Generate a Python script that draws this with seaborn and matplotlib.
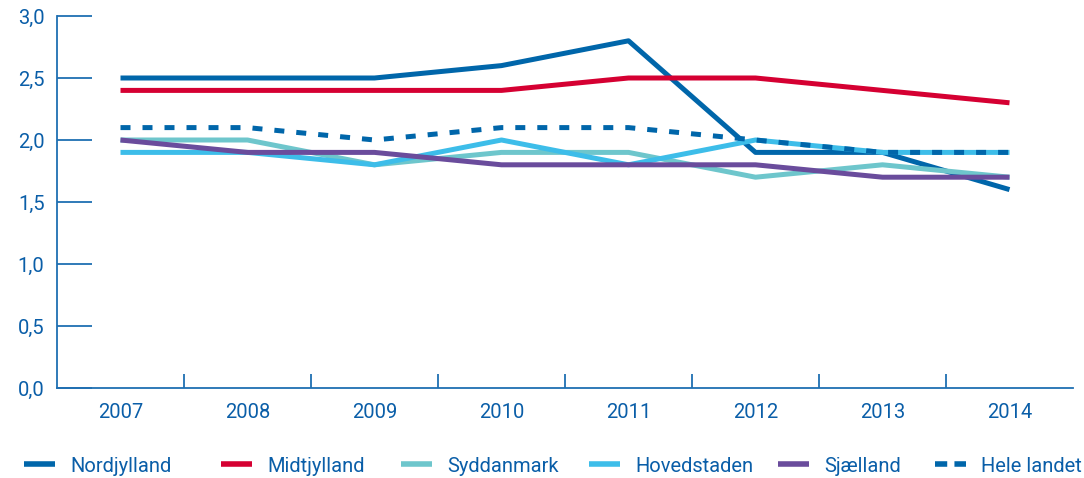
import matplotlib
matplotlib.use("Agg")
import matplotlib.pyplot as plt
import seaborn as sns
import pandas as pd
import numpy as np

years = ["2007", "2008", "2009", "2010", "2011", "2012", "2013", "2014"]
nordjylland = [2.5, 2.5, 2.5, 2.6, 2.8, 1.9, 1.9, 1.6]
midtjylland = [2.4, 2.4, 2.4, 2.4, 2.5, 2.5, 2.4, 2.3]
syddanmark = [2.0, 2.0, 1.8, 1.9, 1.9, 1.7, 1.8, 1.7]
hovedstaden = [1.9, 1.9, 1.8, 2.0, 1.8, 2.0, 1.9, 1.9]
sjaelland = [2.0, 1.9, 1.9, 1.8, 1.8, 1.8, 1.7, 1.7]
hele_landet = [2.1, 2.1, 2.0, 2.1, 2.1, 2.0, 1.9, 1.9]

series = [
    ("Nordjylland", nordjylland, "#0066aa", "-"),
    ("Midtjylland", midtjylland, "#d50032", "-"),
    ("Syddanmark", syddanmark, "#6ec6cc", "-"),
    ("Hovedstaden", hovedstaden, "#3dbde9", "-"),
    ("Sjælland", sjaelland, "#6a4c9c", "-"),
    ("Hele landet", hele_landet, "#0066aa", (0, (2.0, 2.4))),
]
legend_x = [24, 221, 401, 589, 778, 935]

sns.set_style("white")
plt.rcParams["font.family"] = ["Roboto", "DejaVu Sans"]
axis_col = "#1f6fb2"
text_col = "#0a5ea8"

fig = plt.figure(figsize=(10.84, 4.78), dpi=100)
ax = fig.add_axes([57/1084, 1-388/478, (1073-57)/1084, (388-16)/478])

xs = np.arange(len(years))
for name, vals, col, ls in series:
    df = pd.DataFrame({"x": xs, "y": vals})
    sns.lineplot(data=df, x="x", y="y", ax=ax, color=col, linewidth=3.6,
                 linestyle=ls, legend=False, solid_capstyle="butt", dash_capstyle="butt")

ax.set_xlim(-0.5, 7.5)
ax.set_ylim(0, 3.0)
ax.set_xlabel("")
ax.set_ylabel("")
ax.set_xticks(xs)
ax.set_xticklabels(years)
ax.set_xticks(np.arange(0.5, 7, 1.0), minor=True)
ax.set_yticks(np.arange(0, 3.01, 0.5))
ax.set_yticklabels([f"{v:.1f}".replace(".", ",") for v in np.arange(0, 3.01, 0.5)])

for s in ["top", "right"]:
    ax.spines[s].set_visible(False)
for s in ["left", "bottom"]:
    ax.spines[s].set_color(axis_col)
    ax.spines[s].set_linewidth(1.3)

ax.tick_params(axis="x", which="major", bottom=True, length=0, pad=11, labelsize=14.5, labelcolor=text_col)
ax.tick_params(axis="x", which="minor", bottom=True, direction="in", length=10, width=1.3, color=axis_col)
ax.tick_params(axis="y", which="major", left=True, direction="in", length=25, width=1.3, color=axis_col,
               pad=9, labelsize=14.5, labelcolor=text_col)

for (name, vals, col, ls), lx in zip(series, legend_x):
    h = plt.Line2D([], [], color=col, linewidth=4.0, solid_capstyle="butt", dash_capstyle="butt",
                   linestyle="-" if ls == "-" else (0, (2.2, 1.3)))
    leg = fig.legend([h], [name], loc="center left",
                     bbox_to_anchor=(lx/1084, 1-466/478), frameon=False,
                     fontsize=14.5, handlelength=1.55, handletextpad=0.75,
                     borderaxespad=0, borderpad=0)
    for t in leg.get_texts():
        t.set_color(text_col)

fig.savefig("out.png", dpi=100)
